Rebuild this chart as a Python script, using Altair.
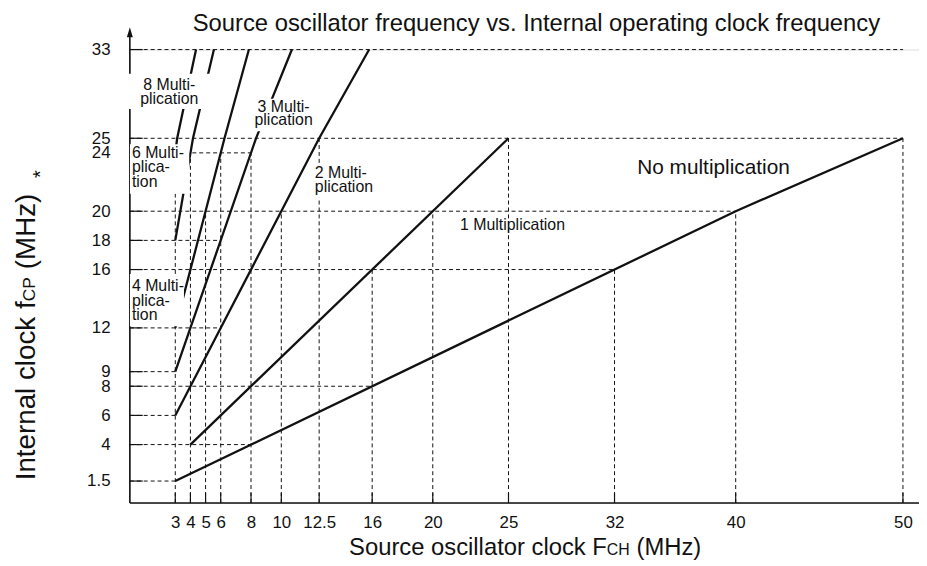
import altair as alt
import pandas as pd

# ---------------- data ----------------
x_ticks = [3, 4, 5, 6, 8, 10, 12.5, 16, 20, 25, 32, 40, 50]
y_ticks = [1.5, 4, 6, 8, 9, 12, 16, 18, 20, 24, 25, 33]

series = ["No multiplication", "1 Multiplication", "2 Multiplication",
          "3 Multiplication", "4 Multiplication", "6 Multiplication",
          "8 Multiplication"]
series_fch = [[3, 40, 50], [4, 25], [3, 12.5, 15.8], [3, 8.33, 10.7],
              [3, 6.25, 7.86], [3, 4.17, 5.55], [3, 3.125, 4.37]]
series_fcp = [[1.5, 20, 25], [4, 25], [6, 25, 33], [9, 25, 33],
              [12, 25, 33], [18, 25, 33], [24, 25, 33]]

hguide_fcp = [1.5, 4, 6, 8, 9, 12, 16, 18, 20, 24, 25, 33]
hguide_fch_end = [3, 8, 3, 16, 3, 6, 32, 6, 40, 8, 50, 50]
vguide_fch = [3, 4, 5, 6, 8, 10, 12.5, 16, 20, 25, 32, 40, 50]
vguide_fcp_end = [24, 24, 20, 24, 24, 20, 25, 16, 20, 25, 16, 20, 25]

# ---------------- layout ----------------
FONT = "Liberation Sans, Arial, Helvetica, sans-serif"
INK = "#111111"
OX, OY = 130.9, 47.5          # page position of plot origin (top-left)
W, H = 796, 457.3             # plot area


def px(x):
    return x - OX


def py(y):
    return y - OY


xs = alt.Scale(domain=[0, 40, 50], range=[0, 611.1, 779.8], nice=False, zero=False)
ys = alt.Scale(domain=[0, 25, 33], range=[H, py(137), 0], nice=False, zero=False)

x_axis = alt.Axis(values=x_ticks, title=None, domain=False, ticks=False, grid=False,
                  labelFont=FONT, labelFontSize=17, labelColor=INK, labelPadding=12,
                  labelFlush=False, labelOverlap=False, labelBound=False,
                  labelExpr="datum.value + ''")
y_axis = alt.Axis(values=y_ticks, title=None, domain=False, ticks=False, grid=False,
                  labelFont=FONT, labelFontSize=17, labelColor=INK, labelPadding=20,
                  labelFlush=False, labelOverlap=False, labelBound=False,
                  labelExpr="datum.value + ''")

rows = []
for name, fs, ps in zip(series, series_fch, series_fcp):
    for i, (f, p) in enumerate(zip(fs, ps)):
        rows.append({"series": name, "fch": f, "fcp": p, "idx": i})
lines_df = pd.DataFrame(rows)

h_df = pd.DataFrame({"fcp": hguide_fcp, "x0": [0] * len(hguide_fcp), "x1": hguide_fch_end})
v_df = pd.DataFrame({"fch": vguide_fch, "y0": [0] * len(vguide_fch), "y1": vguide_fcp_end})
yt_df = pd.DataFrame({"fcp": y_ticks})
xt_df = pd.DataFrame({"fch": x_ticks})
one = pd.DataFrame({"k": [0]})

dash = [4, 3]

h_guides = alt.Chart(h_df).mark_rule(strokeDash=dash, strokeWidth=1, color=INK).encode(
    x=alt.X("x0:Q", scale=xs, axis=x_axis), x2="x1:Q",
    y=alt.Y("fcp:Q", scale=ys, axis=y_axis))
v_guides = alt.Chart(v_df).mark_rule(strokeDash=dash, strokeWidth=1, color=INK).encode(
    x=alt.X("fch:Q", scale=xs, axis=x_axis),
    y=alt.Y("y0:Q", scale=ys, axis=y_axis), y2="y1:Q")

y_tick_marks = alt.Chart(yt_df).mark_rule(strokeWidth=1.2, color=INK).encode(
    y=alt.Y("fcp:Q", scale=ys, axis=y_axis), x=alt.value(0), x2=alt.value(13))
x_tick_marks = alt.Chart(xt_df).mark_rule(strokeWidth=1.2, color=INK).encode(
    x=alt.X("fch:Q", scale=xs, axis=x_axis), y=alt.value(H), y2=alt.value(H - 10))

curves = alt.Chart(lines_df).mark_line(strokeWidth=2.3, color=INK).encode(
    x=alt.X("fch:Q", scale=xs, axis=x_axis),
    y=alt.Y("fcp:Q", scale=ys, axis=y_axis),
    detail="series:N", order="idx:Q")

# axis lines
x_line = alt.Chart(one).mark_rule(strokeWidth=1.6, color=INK).encode(
    x=alt.value(0), x2=alt.value(W), y=alt.value(H))
y_line = alt.Chart(one).mark_rule(strokeWidth=1.6, color=INK).encode(
    x=alt.value(0), y=alt.value(py(30)), y2=alt.value(H))
arrow = alt.Chart(one).mark_point(shape="M0,-1L0.6,1L-0.6,1Z", filled=True, size=100,
                                  opacity=1, color=INK).encode(
    x=alt.value(0), y=alt.value(py(30)))

# white boxes behind the labels (break lines like the reference)
boxes = [(128, 212, 72, 107.5), (131, 190.8, 143, 193), (131, 185.5, 274, 326.5),
         (255, 317, 97, 130), (316, 377, 162, 197)]
box_layers = [
    alt.Chart(one).mark_rect(color="white", opacity=1).encode(
        x=alt.value(px(a)), x2=alt.value(px(b)), y=alt.value(py(c)), y2=alt.value(py(d)))
    for a, b, c, d in boxes
]


def label(text, x, y, size=16, align="left", lh=14.6, angle=0):
    return alt.Chart(one).mark_text(
        text=text, font=FONT, fontSize=size, align=align, baseline="alphabetic",
        lineBreak="\n", lineHeight=lh, color=INK, angle=angle).encode(
        x=alt.value(px(x)), y=alt.value(py(y)))


texts = [
    label("8 Multi-\nplication", 170.7, 88.3, align="center"),
    label("6 Multi-\nplica-\ntion", 133, 156.7),
    label("4 Multi-\nplica-\ntion", 133, 291.5),
    label("3 Multi-\nplication", 286, 110, align="center", lh=14),
    label("2 Multi-\nplication", 317.5, 176.7),
    label("1 Multiplication", 464, 229.5),
    label("No multiplication", 642.7, 172.7, size=21),
    label("Source oscillator frequency vs. Internal operating clock frequency", 541, 28.3,
          size=24, align="center"),
    # x axis title with small-caps subscript
    label("Source oscillator clock F", 612, 557, size=24, align="right"),
    label("CH", 612, 557, size=16),
    label("(MHz)", 642, 557, size=24),
    # y axis title (rotated)
    label("Internal clock f", 35, 482, size=28, angle=270),
    label("CP", 35, 301.5, size=17.5, angle=270),
    label("(MHz)", 35, 269, size=28, angle=270),
    label("*", 47, 177, size=20, angle=270),
]

chart = alt.layer(
    h_guides, v_guides, y_tick_marks, x_tick_marks, curves, x_line, y_line, arrow,
    *box_layers, *texts
).properties(
    width=W, height=H,
    autosize=alt.AutoSizeParams(type="none"),
    padding={"left": OX - 8, "top": OY - 8, "right": 0, "bottom": 60},
).configure_view(stroke=None).configure(background="white")

chart.save("out.html", embed_options={"renderer": "svg", "actions": False})
